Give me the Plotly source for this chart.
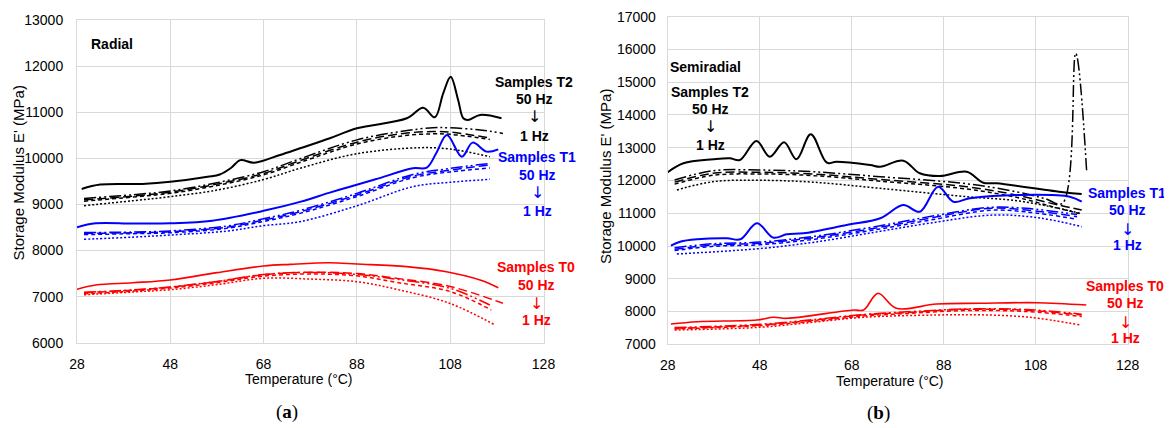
import plotly.graph_objects as go

# ---------------- DATA ----------------
FREQS = ["50 Hz", "20 Hz", "10 Hz", "5 Hz", "1 Hz"]

# ---- (a) Radial ----
RAD_T2_50_T = [29, 33, 42, 48, 56, 58.6, 61, 63, 66, 71.5, 75.8, 82.2, 88, 98.7, 102.2, 104.7, 106.5, 108.1, 109.7, 110.8, 111.8, 114.4, 119]
RAD_T2_50_E = [9334, 9430, 9445, 9490, 9600, 9650, 9790, 9960, 9905, 10072, 10217, 10434, 10650, 10868, 11098, 10889, 11410, 11770, 11265, 10868, 10830, 10940, 10868]
RAD_T2_20_T = [29.5, 40, 48, 58, 68, 75.8, 88, 98, 104.3, 108, 114, 119.3]
RAD_T2_20_E = [9130, 9210, 9290, 9470, 9710, 9990, 10400, 10590, 10664, 10660, 10620, 10540]
RAD_T2_10_T = [29.5, 40, 48, 58, 68, 75.8, 88, 98, 104.3, 108, 116.5]
RAD_T2_10_E = [9100, 9180, 9265, 9440, 9670, 9950, 10350, 10540, 10580, 10570, 10440]
RAD_T2_5_T = [29.5, 40, 48, 58, 68, 75.8, 88, 98, 104.3, 108, 116.5]
RAD_T2_5_E = [9070, 9160, 9240, 9410, 9640, 9910, 10310, 10490, 10530, 10520, 10410]
RAD_T2_1_T = [29.5, 40, 48, 58, 68, 75.8, 88, 101.5, 108, 116.5]
RAD_T2_1_E = [8972, 9080, 9167, 9310, 9540, 9783, 10100, 10230, 10200, 10035]

RAD_T1_50_T = [28, 32, 40, 48, 57, 68, 76, 82, 86.5, 92, 100, 103, 105, 107.3, 110.5, 112.8, 115.8, 118.3]
RAD_T1_50_E = [8503, 8590, 8585, 8590, 8647, 8860, 9060, 9250, 9384, 9544, 9783, 9800, 10110, 10505, 10035, 10340, 10145, 10195]
RAD_T1_20_T = [29.5, 40, 48, 60, 68, 75.8, 88, 100, 108, 116.5]
RAD_T1_20_E = [8390, 8400, 8425, 8530, 8690, 8870, 9240, 9650, 9780, 9890]
RAD_T1_10_T = [29.5, 40, 48, 60, 68, 75.8, 88, 100, 108, 116.5]
RAD_T1_10_E = [8370, 8385, 8405, 8505, 8660, 8840, 9205, 9615, 9745, 9855]
RAD_T1_5_T = [29.5, 40, 48, 60, 68, 75.8, 88, 100, 108, 116.5]
RAD_T1_5_E = [8345, 8365, 8385, 8480, 8630, 8805, 9170, 9580, 9705, 9790]
RAD_T1_1_T = [29.5, 40, 48, 60, 68, 75.8, 88, 100, 108, 116.5]
RAD_T1_1_E = [8243, 8290, 8336, 8420, 8540, 8625, 8970, 9385, 9480, 9544]

RAD_T0_50_T = [28, 32, 40, 48, 58, 68, 73.7, 82.2, 88, 98.7, 107.2, 114.4, 118.3]
RAD_T0_50_E = [7158, 7252, 7300, 7360, 7520, 7664, 7700, 7735, 7707, 7650, 7540, 7360, 7193]
RAD_T0_20_T = [29.5, 40, 48, 58, 68, 78, 88, 97, 108, 116.5]
RAD_T0_20_E = [7095, 7145, 7210, 7330, 7480, 7525, 7480, 7370, 7180, 6818]
RAD_T0_10_T = [29.5, 40, 48, 58, 68, 78, 88, 97, 108, 119.3]
RAD_T0_10_E = [7085, 7140, 7205, 7325, 7475, 7530, 7500, 7390, 7220, 6854]
RAD_T0_5_T = [29.5, 40, 48, 58, 68, 78, 88, 97, 108, 116.8]
RAD_T0_5_E = [7060, 7120, 7185, 7300, 7445, 7490, 7450, 7300, 7110, 6709]
RAD_T0_1_T = [29.5, 40, 48, 58, 68, 78, 88, 97.2, 108, 117.6]
RAD_T0_1_E = [7040, 7100, 7150, 7260, 7397, 7380, 7323, 7143, 6850, 6384]

# ---- (b) Semiradial ----
SEMI_T2_50_T = [28, 31.4, 37.9, 41.5, 43.7, 47.3, 50.2, 53.3, 56, 59.1, 62.6, 64.7, 72, 74.2, 79.2, 82.8, 87.2, 93, 96.6, 99.5, 114, 118]
SEMI_T2_50_E = [12250, 12525, 12647, 12678, 12626, 13205, 12726, 13166, 12647, 13410, 12543, 12573, 12473, 12421, 12604, 12220, 12137, 12268, 11933, 11915, 11640, 11588]
SEMI_T2_20_T = [29.5, 37.9, 48, 59.5, 74.2, 93, 104, 110, 113.8, 116.7, 119.1]
SEMI_T2_20_E = [12015, 12299, 12320, 12268, 12116, 11900, 11650, 11450, 11300, 15883, 12220]
SEMI_T2_10_T = [29.5, 37.9, 48, 59.5, 74.2, 93, 104, 113, 118]
SEMI_T2_10_E = [11950, 12220, 12250, 12200, 12030, 11811, 11550, 11250, 11100]
SEMI_T2_5_T = [29.5, 37.9, 48, 59.5, 74.2, 93, 104, 113, 117.5]
SEMI_T2_5_E = [11890, 12160, 12200, 12150, 11980, 11740, 11480, 11150, 10990]
SEMI_T2_1_T = [30, 37.9, 48, 59.5, 74.2, 93, 104, 113, 117.6]
SEMI_T2_1_E = [11710, 11964, 12006, 11950, 11760, 11506, 11380, 11150, 11000]

SEMI_T1_50_T = [28.7, 30.7, 34.4, 40.9, 43.8, 47.4, 51, 53.9, 57.5, 66.9, 74.2, 79.2, 82.8, 86.8, 90.1, 93.7, 104.5, 115.4, 118]
SEMI_T1_50_E = [10010, 10132, 10205, 10235, 10205, 10693, 10254, 10357, 10388, 10641, 10846, 11252, 11048, 11811, 11353, 11457, 11557, 11506, 11353]
SEMI_T1_20_T = [29.5, 37.9, 48, 60, 74.2, 85, 98, 106, 117]
SEMI_T1_20_E = [9950, 10070, 10120, 10300, 10620, 10900, 11180, 11150, 10960]
SEMI_T1_10_T = [29.5, 37.9, 48, 60, 74.2, 85, 98, 106, 117]
SEMI_T1_10_E = [9900, 10031, 10083, 10260, 10572, 10850, 11150, 11099, 10896]
SEMI_T1_5_T = [29.5, 37.9, 48, 60, 74.2, 85, 98, 106, 117]
SEMI_T1_5_E = [9860, 9990, 10040, 10210, 10520, 10790, 11090, 11040, 10820]
SEMI_T1_1_T = [30, 48.8, 60, 73, 85, 99, 109.3, 118]
SEMI_T1_1_E = [9757, 9931, 10120, 10420, 10700, 10947, 10846, 10590]

SEMI_T0_50_T = [28.7, 34.4, 47.4, 51, 53.9, 68.4, 70.6, 73.7, 77.7, 86.4, 95.8, 108.1, 119]
SEMI_T0_50_E = [7620, 7690, 7742, 7824, 7793, 8047, 8047, 8556, 8099, 8230, 8251, 8270, 8200]
SEMI_T0_20_T = [29.5, 48, 60, 70.4, 80, 93, 106, 118]
SEMI_T0_20_E = [7510, 7610, 7760, 7910, 7990, 8080, 8060, 7920]
SEMI_T0_10_T = [29.5, 48, 60, 70.4, 80, 93, 106, 118]
SEMI_T0_10_E = [7488, 7589, 7740, 7894, 7970, 8068, 8040, 7894]
SEMI_T0_5_T = [29.5, 48, 60, 70.4, 80, 93, 106, 118]
SEMI_T0_5_E = [7470, 7570, 7710, 7860, 7940, 8030, 8000, 7850]
SEMI_T0_1_T = [29.5, 48, 60, 70.4, 86.4, 96, 106.8, 117.7]
SEMI_T0_1_E = [7437, 7519, 7680, 7824, 7894, 7900, 7824, 7589]

X_TICKS = [28, 48, 68, 88, 108, 128]
RAD_Y_RANGE = [6000, 13000]
SEMI_Y_RANGE = [7000, 17000]

# ---------------- STYLE ----------------
PAGE_W, PAGE_H = 1172, 428
OFF = 8                      # default page margin around the figure
W, H = PAGE_W - OFF, PAGE_H - OFF
FONT = "Liberation Sans, Arial, sans-serif"
ARROW_FONT = "DejaVu Sans, sans-serif"
BLACK, BLUE, RED = "#000000", "#0000ff", "#ff0000"
GRID = "#d9d9d9"
DASHES = ["solid", "12px,3px,2px,3px,2px,3px", "9px,4px", "4px,3px", "2px,2px"]


def fx(px):
    return (px - OFF) / W


def fy(py):
    return 1 - (py - OFF) / H


fig = go.Figure()

groups = [
    ("x", "y", BLACK, [(RAD_T2_50_T, RAD_T2_50_E), (RAD_T2_20_T, RAD_T2_20_E), (RAD_T2_10_T, RAD_T2_10_E), (RAD_T2_5_T, RAD_T2_5_E), (RAD_T2_1_T, RAD_T2_1_E)]),
    ("x", "y", BLUE, [(RAD_T1_50_T, RAD_T1_50_E), (RAD_T1_20_T, RAD_T1_20_E), (RAD_T1_10_T, RAD_T1_10_E), (RAD_T1_5_T, RAD_T1_5_E), (RAD_T1_1_T, RAD_T1_1_E)]),
    ("x", "y", RED, [(RAD_T0_50_T, RAD_T0_50_E), (RAD_T0_20_T, RAD_T0_20_E), (RAD_T0_10_T, RAD_T0_10_E), (RAD_T0_5_T, RAD_T0_5_E), (RAD_T0_1_T, RAD_T0_1_E)]),
    ("x2", "y2", BLACK, [(SEMI_T2_50_T, SEMI_T2_50_E), (SEMI_T2_20_T, SEMI_T2_20_E), (SEMI_T2_10_T, SEMI_T2_10_E), (SEMI_T2_5_T, SEMI_T2_5_E), (SEMI_T2_1_T, SEMI_T2_1_E)]),
    ("x2", "y2", BLUE, [(SEMI_T1_50_T, SEMI_T1_50_E), (SEMI_T1_20_T, SEMI_T1_20_E), (SEMI_T1_10_T, SEMI_T1_10_E), (SEMI_T1_5_T, SEMI_T1_5_E), (SEMI_T1_1_T, SEMI_T1_1_E)]),
    ("x2", "y2", RED, [(SEMI_T0_50_T, SEMI_T0_50_E), (SEMI_T0_20_T, SEMI_T0_20_E), (SEMI_T0_10_T, SEMI_T0_10_E), (SEMI_T0_5_T, SEMI_T0_5_E), (SEMI_T0_1_T, SEMI_T0_1_E)]),
]

for xa, ya, color, series in groups:
    for i, (t, e) in enumerate(series):
        width = 2 if i == 0 else 1.5
        if i == 0 and color == RED:
            width = 1.6
        fig.add_trace(go.Scatter(
            x=t, y=e, xaxis=xa, yaxis=ya, mode="lines", name=FREQS[i],
            line=dict(color=color, width=width, dash=DASHES[i], shape="spline", smoothing=1),
            showlegend=False, hoverinfo="skip"))

axis_common = dict(showgrid=True, gridcolor=GRID, gridwidth=1, showline=True, linecolor=GRID,
                   linewidth=1, mirror=True, zeroline=False, ticks="", automargin=False,
                   tickfont=dict(family=FONT, size=14, color="#000"))

fig.update_layout(
    width=W, height=H, margin=dict(l=0, r=0, t=0, b=0, pad=0, autoexpand=False),
    paper_bgcolor="white", plot_bgcolor="white", showlegend=False,
    xaxis=dict(domain=[fx(77), fx(543.5)], range=[28, 128], tickvals=X_TICKS, anchor="y",
               ticklabelstandoff=8, **axis_common),
    yaxis=dict(domain=[fy(342.7), fy(20)], range=RAD_Y_RANGE, dtick=1000, anchor="x",
               tickformat="d", ticklabelstandoff=10, **axis_common),
    xaxis2=dict(domain=[fx(667.7), fx(1127.7)], range=[28, 128], tickvals=X_TICKS, anchor="y2",
                ticklabelstandoff=8, **axis_common),
    yaxis2=dict(domain=[fy(344.3), fy(16.7)], range=SEMI_Y_RANGE, dtick=1000, anchor="x2",
                tickformat="d", ticklabelstandoff=8, **axis_common),
)

ann = []


def text(px, py, s, color="#000", size=14, bold=True, xanchor="center", angle=0, family=FONT):
    ann.append(dict(x=fx(px), y=fy(py), xref="paper", yref="paper", showarrow=False,
                    text=f"<b>{s}</b>" if bold else s, xanchor=xanchor, yanchor="middle",
                    textangle=angle, font=dict(family=family, size=size, color=color)))


# Panel labels
text(89, 44, "Radial", xanchor="left")
text(668, 67, "Semiradial", xanchor="left")

# Group labels
for (cx, ys, label, color) in [
    (534, (82, 99, 117, 136), "Samples T2", BLACK),
    (537, (157, 175, 192, 211), "Samples T1", BLUE),
    (536, (267, 285, 303, 320), "Samples T0", RED),
    (710, (92, 109, 126, 145), "Samples T2", BLACK),
    (1127, (193, 210, 229, 245), "Samples T1", BLUE),
    (1125, (286, 303, 322, 338), "Samples T0", RED),
]:
    text(cx, ys[0], label, color)
    text(cx, ys[1], FREQS[0], color)
    text(cx, ys[2], "↓", color, size=16, bold=False, family=ARROW_FONT)
    text(cx, ys[3], FREQS[-1], color)

# Axis titles
text(299, 379, "Temperature (°C)", bold=False, size=14)
text(890, 381, "Temperature (°C)", bold=False, size=14)
text(18.5, 173, "Storage Modulus E' (MPa)", bold=False, size=15, angle=-90)
text(605, 177, "Storage Modulus E' (MPa)", bold=False, size=15, angle=-90)

# Sub-figure labels
text(287, 412, "(<b>a</b>)", bold=False, size=19, family="Liberation Serif, DejaVu Serif, serif")
text(878, 413, "(<b>b</b>)", bold=False, size=19, family="Liberation Serif, DejaVu Serif, serif")

fig.update_layout(annotations=ann)
fig.write_html("out.html")
